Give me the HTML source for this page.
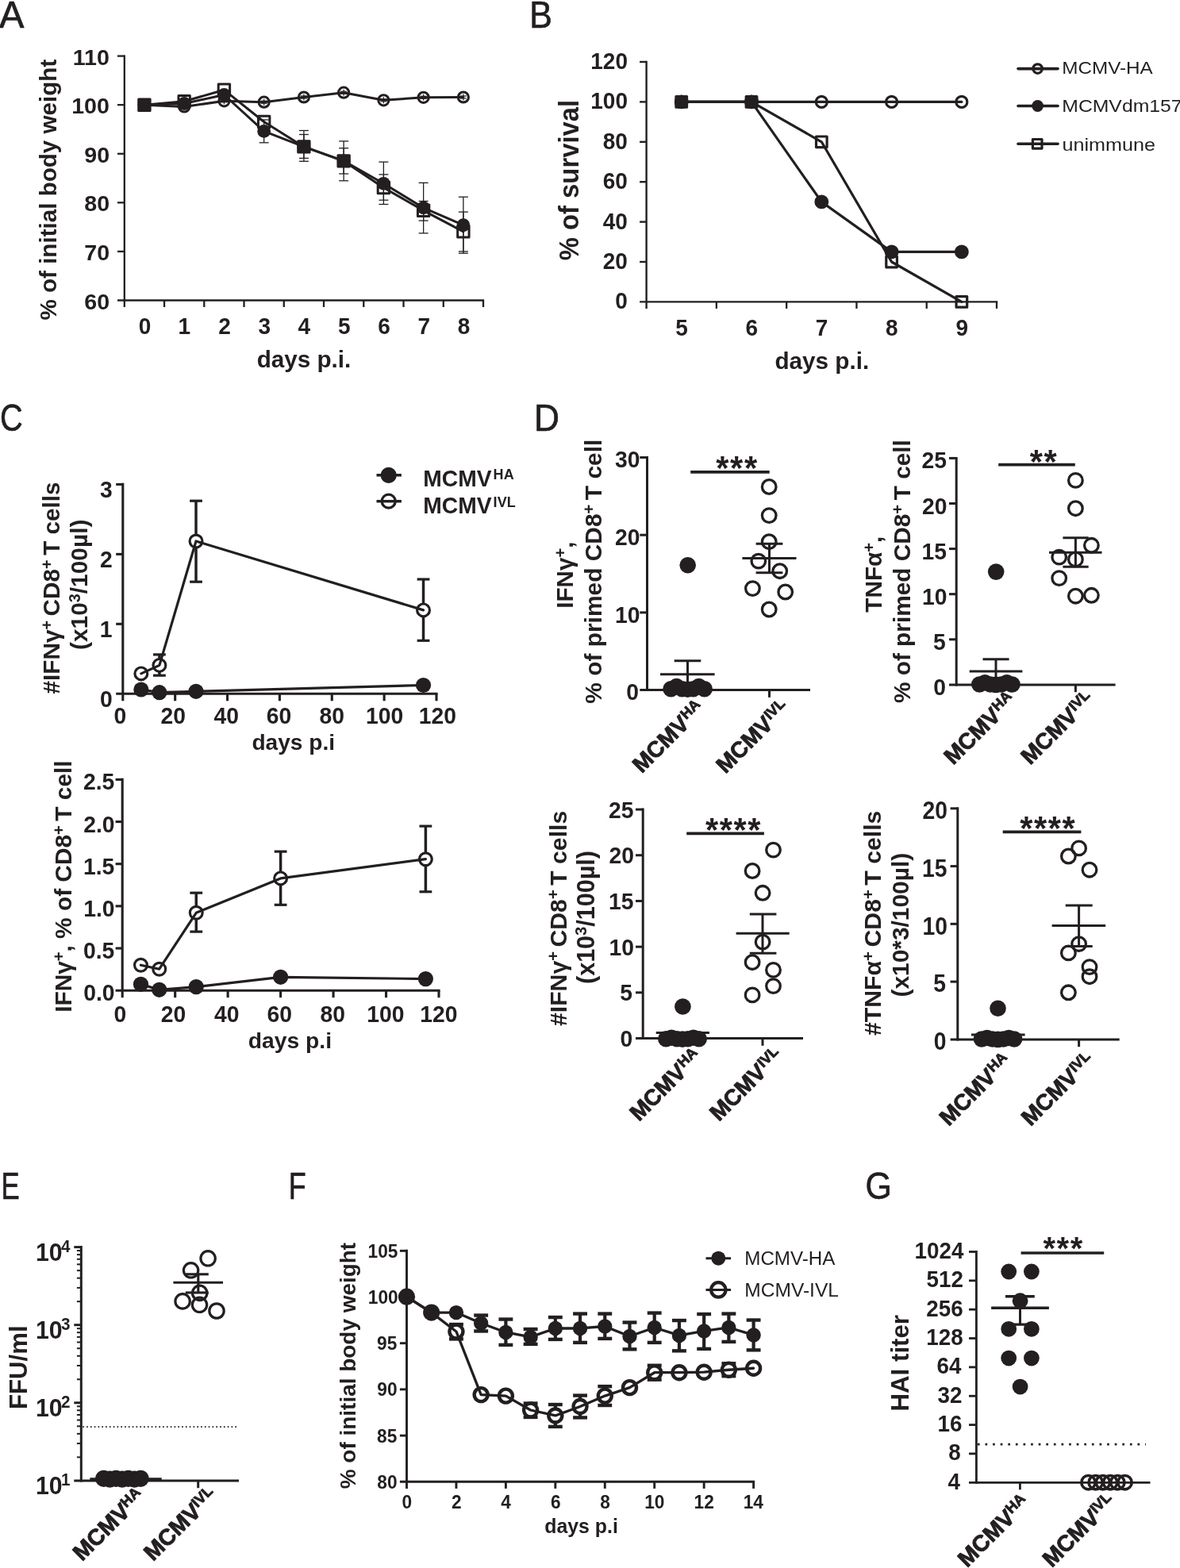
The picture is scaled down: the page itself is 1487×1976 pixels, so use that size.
<!DOCTYPE html>
<html><head><meta charset="utf-8"><title>Figure</title>
<style>html,body{margin:0;padding:0;background:#fff}svg{display:block}text{font-family:"Liberation Sans",sans-serif;fill:#231f20;stroke:none}</style>
</head><body>
<svg width="1487" height="1976" viewBox="0 0 1487 1976" stroke="#231f20" fill="#231f20">
<rect x="0" y="0" width="1487" height="1976" fill="#fff" stroke="none"/>
<text transform="translate(-0.96,35.35) scale(0.9636,1)" font-size="48.90" font-weight="normal" style="stroke:#231f20;stroke-width:0.7px;stroke-linejoin:round">A</text>
<text transform="translate(667.32,35.35) scale(0.8755,1)" font-size="48.90" font-weight="normal" style="stroke:#231f20;stroke-width:0.7px;stroke-linejoin:round">B</text>
<text transform="translate(0.07,543.15) scale(0.8127,1)" font-size="48.90" font-weight="normal" style="stroke:#231f20;stroke-width:0.7px;stroke-linejoin:round">C</text>
<text transform="translate(673.01,543.05) scale(0.9051,1)" font-size="48.90" font-weight="normal" style="stroke:#231f20;stroke-width:0.7px;stroke-linejoin:round">D</text>
<text transform="translate(1.43,1511.45) scale(0.7111,1)" font-size="48.90" font-weight="normal" style="stroke:#231f20;stroke-width:0.7px;stroke-linejoin:round">E</text>
<text transform="translate(363.64,1511.45) scale(0.7347,1)" font-size="48.90" font-weight="normal" style="stroke:#231f20;stroke-width:0.7px;stroke-linejoin:round">F</text>
<text transform="translate(1090.43,1511.45) scale(0.8769,1)" font-size="48.90" font-weight="normal" style="stroke:#231f20;stroke-width:0.7px;stroke-linejoin:round">G</text>
<line x1="156.80" y1="69.50" x2="156.80" y2="387.00" stroke-width="2.3" />
<line x1="148.00" y1="378.50" x2="610.10" y2="378.50" stroke-width="2.3" />
<text transform="translate(106.19,389.50) scale(1.0500,1)" font-size="27.30" font-weight="bold" >60</text>
<line x1="148.00" y1="316.92" x2="156.80" y2="316.92" stroke-width="2.3" />
<text transform="translate(106.19,327.92) scale(1.0500,1)" font-size="27.30" font-weight="bold" >70</text>
<line x1="148.00" y1="255.34" x2="156.80" y2="255.34" stroke-width="2.3" />
<text transform="translate(106.19,266.34) scale(1.0500,1)" font-size="27.30" font-weight="bold" >80</text>
<line x1="148.00" y1="193.76" x2="156.80" y2="193.76" stroke-width="2.3" />
<text transform="translate(106.19,204.76) scale(1.0500,1)" font-size="27.30" font-weight="bold" >90</text>
<line x1="148.00" y1="132.18" x2="156.80" y2="132.18" stroke-width="2.3" />
<text transform="translate(90.18,143.18) scale(1.0500,1)" font-size="27.30" font-weight="bold" >100</text>
<line x1="148.00" y1="70.60" x2="156.80" y2="70.60" stroke-width="2.3" />
<text transform="translate(91.75,81.60) scale(1.0500,1)" font-size="27.30" font-weight="bold" >110</text>
<line x1="207.04" y1="378.50" x2="207.04" y2="387.00" stroke-width="2.3" />
<line x1="257.29" y1="378.50" x2="257.29" y2="387.00" stroke-width="2.3" />
<line x1="307.53" y1="378.50" x2="307.53" y2="387.00" stroke-width="2.3" />
<line x1="357.78" y1="378.50" x2="357.78" y2="387.00" stroke-width="2.3" />
<line x1="408.02" y1="378.50" x2="408.02" y2="387.00" stroke-width="2.3" />
<line x1="458.27" y1="378.50" x2="458.27" y2="387.00" stroke-width="2.3" />
<line x1="508.51" y1="378.50" x2="508.51" y2="387.00" stroke-width="2.3" />
<line x1="558.76" y1="378.50" x2="558.76" y2="387.00" stroke-width="2.3" />
<line x1="609.00" y1="378.50" x2="609.00" y2="387.00" stroke-width="2.3" />
<text transform="translate(174.71,421.00) scale(0.9620,1)" font-size="29.12" font-weight="bold" >0</text>
<text transform="translate(224.47,421.00) scale(0.9620,1)" font-size="29.12" font-weight="bold" >1</text>
<text transform="translate(275.32,421.00) scale(0.9620,1)" font-size="29.12" font-weight="bold" >2</text>
<text transform="translate(325.56,421.00) scale(0.9620,1)" font-size="29.12" font-weight="bold" >3</text>
<text transform="translate(375.56,421.00) scale(0.9620,1)" font-size="29.12" font-weight="bold" >4</text>
<text transform="translate(425.93,421.00) scale(0.9620,1)" font-size="29.12" font-weight="bold" >5</text>
<text transform="translate(476.17,421.00) scale(0.9620,1)" font-size="29.12" font-weight="bold" >6</text>
<text transform="translate(526.42,421.00) scale(0.9620,1)" font-size="29.12" font-weight="bold" >7</text>
<text transform="translate(576.66,421.00) scale(0.9620,1)" font-size="29.12" font-weight="bold" >8</text>
<text transform="translate(323.65,463.10)" font-size="29.67" font-weight="bold" >days p.i.</text>
<text transform="translate(71.40,403.55) rotate(-90)" font-size="29.60" font-weight="bold" >% of initial body weight</text>
<polyline points="181.92,132.30 232.17,134.50 282.41,127.30 332.66,128.70 382.90,122.50 433.14,116.70 483.39,126.30 533.63,122.80 583.88,122.50" fill="none" stroke-width="3" stroke-linejoin="round" stroke-linecap="round" />
<polyline points="181.92,132.30 232.17,130.50 282.41,119.50 332.66,165.40 382.90,184.90 433.14,202.90 483.39,231.30 533.63,261.90 583.88,283.70" fill="none" stroke-width="3" stroke-linejoin="round" stroke-linecap="round" />
<polyline points="181.92,132.30 232.17,127.70 282.41,113.30 332.66,153.50 382.90,184.90 433.14,202.90 483.39,236.50 533.63,265.30 583.88,291.90" fill="none" stroke-width="3" stroke-linejoin="round" stroke-linecap="round" />
<line x1="332.66" y1="151.00" x2="332.66" y2="179.80" stroke-width="1.3" />
<line x1="326.66" y1="151.00" x2="338.66" y2="151.00" stroke-width="1.3" />
<line x1="326.66" y1="179.80" x2="338.66" y2="179.80" stroke-width="1.3" />
<line x1="382.90" y1="164.50" x2="382.90" y2="203.30" stroke-width="1.3" />
<line x1="376.90" y1="164.50" x2="388.90" y2="164.50" stroke-width="1.3" />
<line x1="376.90" y1="203.30" x2="388.90" y2="203.30" stroke-width="1.3" />
<line x1="433.14" y1="177.90" x2="433.14" y2="227.80" stroke-width="1.3" />
<line x1="427.14" y1="177.90" x2="439.14" y2="177.90" stroke-width="1.3" />
<line x1="427.14" y1="227.80" x2="439.14" y2="227.80" stroke-width="1.3" />
<line x1="483.39" y1="204.10" x2="483.39" y2="257.50" stroke-width="1.3" />
<line x1="477.39" y1="204.10" x2="489.39" y2="204.10" stroke-width="1.3" />
<line x1="477.39" y1="257.50" x2="489.39" y2="257.50" stroke-width="1.3" />
<line x1="533.63" y1="230.40" x2="533.63" y2="293.90" stroke-width="1.3" />
<line x1="527.63" y1="230.40" x2="539.63" y2="230.40" stroke-width="1.3" />
<line x1="527.63" y1="293.90" x2="539.63" y2="293.90" stroke-width="1.3" />
<line x1="583.88" y1="248.20" x2="583.88" y2="319.20" stroke-width="1.3" />
<line x1="577.88" y1="248.20" x2="589.88" y2="248.20" stroke-width="1.3" />
<line x1="577.88" y1="319.20" x2="589.88" y2="319.20" stroke-width="1.3" />
<line x1="382.90" y1="169.50" x2="382.90" y2="199.40" stroke-width="1.3" />
<line x1="376.90" y1="169.50" x2="388.90" y2="169.50" stroke-width="1.3" />
<line x1="376.90" y1="199.40" x2="388.90" y2="199.40" stroke-width="1.3" />
<line x1="433.14" y1="186.70" x2="433.14" y2="219.00" stroke-width="1.3" />
<line x1="427.14" y1="186.70" x2="439.14" y2="186.70" stroke-width="1.3" />
<line x1="427.14" y1="219.00" x2="439.14" y2="219.00" stroke-width="1.3" />
<line x1="483.39" y1="219.90" x2="483.39" y2="252.20" stroke-width="1.3" />
<line x1="477.39" y1="219.90" x2="489.39" y2="219.90" stroke-width="1.3" />
<line x1="477.39" y1="252.20" x2="489.39" y2="252.20" stroke-width="1.3" />
<line x1="533.63" y1="253.50" x2="533.63" y2="278.10" stroke-width="1.3" />
<line x1="527.63" y1="253.50" x2="539.63" y2="253.50" stroke-width="1.3" />
<line x1="527.63" y1="278.10" x2="539.63" y2="278.10" stroke-width="1.3" />
<line x1="583.88" y1="267.10" x2="583.88" y2="316.90" stroke-width="1.3" />
<line x1="577.88" y1="267.10" x2="589.88" y2="267.10" stroke-width="1.3" />
<line x1="577.88" y1="316.90" x2="589.88" y2="316.90" stroke-width="1.3" />
<circle cx="181.92" cy="132.30" r="6.6" fill="none" stroke-width="3"/>
<line x1="181.92" y1="128.30" x2="181.92" y2="136.30" stroke-width="1.2" />
<line x1="177.92" y1="130.80" x2="185.92" y2="130.80" stroke-width="1.2" />
<line x1="177.92" y1="133.80" x2="185.92" y2="133.80" stroke-width="1.2" />
<circle cx="232.17" cy="134.50" r="6.6" fill="none" stroke-width="3"/>
<line x1="232.17" y1="130.50" x2="232.17" y2="138.50" stroke-width="1.2" />
<line x1="228.17" y1="133.00" x2="236.17" y2="133.00" stroke-width="1.2" />
<line x1="228.17" y1="136.00" x2="236.17" y2="136.00" stroke-width="1.2" />
<circle cx="282.41" cy="127.30" r="6.6" fill="none" stroke-width="3"/>
<line x1="282.41" y1="123.30" x2="282.41" y2="131.30" stroke-width="1.2" />
<line x1="278.41" y1="125.80" x2="286.41" y2="125.80" stroke-width="1.2" />
<line x1="278.41" y1="128.80" x2="286.41" y2="128.80" stroke-width="1.2" />
<circle cx="332.66" cy="128.70" r="6.6" fill="none" stroke-width="3"/>
<line x1="332.66" y1="124.70" x2="332.66" y2="132.70" stroke-width="1.2" />
<line x1="328.66" y1="127.20" x2="336.66" y2="127.20" stroke-width="1.2" />
<line x1="328.66" y1="130.20" x2="336.66" y2="130.20" stroke-width="1.2" />
<circle cx="382.90" cy="122.50" r="6.6" fill="none" stroke-width="3"/>
<line x1="382.90" y1="118.50" x2="382.90" y2="126.50" stroke-width="1.2" />
<line x1="378.90" y1="121.00" x2="386.90" y2="121.00" stroke-width="1.2" />
<line x1="378.90" y1="124.00" x2="386.90" y2="124.00" stroke-width="1.2" />
<circle cx="433.14" cy="116.70" r="6.6" fill="none" stroke-width="3"/>
<line x1="433.14" y1="112.70" x2="433.14" y2="120.70" stroke-width="1.2" />
<line x1="429.14" y1="115.20" x2="437.14" y2="115.20" stroke-width="1.2" />
<line x1="429.14" y1="118.20" x2="437.14" y2="118.20" stroke-width="1.2" />
<circle cx="483.39" cy="126.30" r="6.6" fill="none" stroke-width="3"/>
<line x1="483.39" y1="122.30" x2="483.39" y2="130.30" stroke-width="1.2" />
<line x1="479.39" y1="124.80" x2="487.39" y2="124.80" stroke-width="1.2" />
<line x1="479.39" y1="127.80" x2="487.39" y2="127.80" stroke-width="1.2" />
<circle cx="533.63" cy="122.80" r="6.6" fill="none" stroke-width="3"/>
<line x1="533.63" y1="118.80" x2="533.63" y2="126.80" stroke-width="1.2" />
<line x1="529.63" y1="121.30" x2="537.63" y2="121.30" stroke-width="1.2" />
<line x1="529.63" y1="124.30" x2="537.63" y2="124.30" stroke-width="1.2" />
<circle cx="583.88" cy="122.50" r="6.6" fill="none" stroke-width="3"/>
<line x1="583.88" y1="118.50" x2="583.88" y2="126.50" stroke-width="1.2" />
<line x1="579.88" y1="121.00" x2="587.88" y2="121.00" stroke-width="1.2" />
<line x1="579.88" y1="124.00" x2="587.88" y2="124.00" stroke-width="1.2" />
<rect x="174.72" y="125.10" width="14.4" height="14.4" fill="none" stroke-width="3" stroke-linejoin="round"/>
<rect x="224.97" y="120.50" width="14.4" height="14.4" fill="none" stroke-width="3" stroke-linejoin="round"/>
<rect x="275.21" y="106.10" width="14.4" height="14.4" fill="none" stroke-width="3" stroke-linejoin="round"/>
<rect x="325.46" y="146.30" width="14.4" height="14.4" fill="none" stroke-width="3" stroke-linejoin="round"/>
<rect x="375.70" y="177.70" width="14.4" height="14.4" fill="none" stroke-width="3" stroke-linejoin="round"/>
<rect x="425.94" y="195.70" width="14.4" height="14.4" fill="none" stroke-width="3" stroke-linejoin="round"/>
<rect x="476.19" y="229.30" width="14.4" height="14.4" fill="none" stroke-width="3" stroke-linejoin="round"/>
<rect x="526.43" y="258.10" width="14.4" height="14.4" fill="none" stroke-width="3" stroke-linejoin="round"/>
<rect x="576.68" y="284.70" width="14.4" height="14.4" fill="none" stroke-width="3" stroke-linejoin="round"/>
<circle cx="181.92" cy="132.30" r="8.4" stroke="none"/>
<circle cx="232.17" cy="130.50" r="8.4" stroke="none"/>
<circle cx="282.41" cy="119.50" r="8.4" stroke="none"/>
<circle cx="332.66" cy="165.40" r="8.4" stroke="none"/>
<circle cx="382.90" cy="184.90" r="8.4" stroke="none"/>
<circle cx="433.14" cy="202.90" r="8.4" stroke="none"/>
<circle cx="483.39" cy="231.30" r="8.4" stroke="none"/>
<circle cx="533.63" cy="261.90" r="8.4" stroke="none"/>
<circle cx="583.88" cy="283.70" r="8.4" stroke="none"/>
<line x1="814.60" y1="76.80" x2="814.60" y2="388.90" stroke-width="2.4" />
<line x1="806.10" y1="380.40" x2="1257.20" y2="380.40" stroke-width="2.4" />
<text transform="translate(775.27,389.30) scale(0.9620,1)" font-size="29.12" font-weight="bold" >0</text>
<line x1="806.10" y1="330.00" x2="814.60" y2="330.00" stroke-width="2.4" />
<text transform="translate(759.64,338.90) scale(0.9620,1)" font-size="29.12" font-weight="bold" >20</text>
<line x1="806.10" y1="279.60" x2="814.60" y2="279.60" stroke-width="2.4" />
<text transform="translate(759.64,288.50) scale(0.9620,1)" font-size="29.12" font-weight="bold" >40</text>
<line x1="806.10" y1="229.20" x2="814.60" y2="229.20" stroke-width="2.4" />
<text transform="translate(759.64,238.10) scale(0.9620,1)" font-size="29.12" font-weight="bold" >60</text>
<line x1="806.10" y1="178.80" x2="814.60" y2="178.80" stroke-width="2.4" />
<text transform="translate(759.64,187.70) scale(0.9620,1)" font-size="29.12" font-weight="bold" >80</text>
<line x1="806.10" y1="128.40" x2="814.60" y2="128.40" stroke-width="2.4" />
<text transform="translate(744.25,137.30) scale(0.9620,1)" font-size="29.12" font-weight="bold" >100</text>
<line x1="806.10" y1="78.00" x2="814.60" y2="78.00" stroke-width="2.4" />
<text transform="translate(744.25,86.90) scale(0.9620,1)" font-size="29.12" font-weight="bold" >120</text>
<line x1="902.88" y1="380.40" x2="902.88" y2="388.90" stroke-width="2.3" />
<line x1="991.16" y1="380.40" x2="991.16" y2="388.90" stroke-width="2.3" />
<line x1="1079.44" y1="380.40" x2="1079.44" y2="388.90" stroke-width="2.3" />
<line x1="1167.72" y1="380.40" x2="1167.72" y2="388.90" stroke-width="2.3" />
<line x1="1256.00" y1="380.40" x2="1256.00" y2="388.90" stroke-width="2.3" />
<text transform="translate(851.22,423.00) scale(0.9620,1)" font-size="29.12" font-weight="bold" >5</text>
<text transform="translate(939.50,423.00) scale(0.9620,1)" font-size="29.12" font-weight="bold" >6</text>
<text transform="translate(1027.78,423.00) scale(0.9620,1)" font-size="29.12" font-weight="bold" >7</text>
<text transform="translate(1116.06,423.00) scale(0.9620,1)" font-size="29.12" font-weight="bold" >8</text>
<text transform="translate(1204.46,423.00) scale(0.9620,1)" font-size="29.12" font-weight="bold" >9</text>
<text transform="translate(976.45,464.80)" font-size="29.69" font-weight="bold" >days p.i.</text>
<text transform="translate(728.50,328.22) rotate(-90) scale(0.9568,1)" font-size="34.30" font-weight="bold" >% of survival</text>
<polyline points="858.74,128.40 947.02,128.40 1035.30,128.40 1123.58,128.40 1211.86,128.40" fill="none" stroke-width="3.2" stroke-linejoin="round" stroke-linecap="round" />
<polyline points="858.74,128.40 947.02,128.40 1035.30,254.40 1123.58,317.40 1211.86,317.40" fill="none" stroke-width="3.2" stroke-linejoin="round" stroke-linecap="round" />
<polyline points="858.74,128.40 947.02,128.40 1035.30,178.80 1123.58,330.00 1211.86,380.40" fill="none" stroke-width="3.2" stroke-linejoin="round" stroke-linecap="round" />
<circle cx="858.74" cy="128.40" r="7.0" fill="none" stroke-width="3.2"/>
<circle cx="947.02" cy="128.40" r="7.0" fill="none" stroke-width="3.2"/>
<circle cx="1035.30" cy="128.40" r="7.0" fill="none" stroke-width="3.2"/>
<circle cx="1123.58" cy="128.40" r="7.0" fill="none" stroke-width="3.2"/>
<circle cx="1211.86" cy="128.40" r="7.0" fill="none" stroke-width="3.2"/>
<rect x="851.94" y="121.60" width="13.6" height="13.6" fill="none" stroke-width="3.2" stroke-linejoin="round"/>
<rect x="940.22" y="121.60" width="13.6" height="13.6" fill="none" stroke-width="3.2" stroke-linejoin="round"/>
<rect x="1028.50" y="172.00" width="13.6" height="13.6" fill="none" stroke-width="3.2" stroke-linejoin="round"/>
<rect x="1116.78" y="323.20" width="13.6" height="13.6" fill="none" stroke-width="3.2" stroke-linejoin="round"/>
<rect x="1205.06" y="373.60" width="13.6" height="13.6" fill="none" stroke-width="3.2" stroke-linejoin="round"/>
<circle cx="858.74" cy="128.40" r="8.9" stroke="none"/>
<circle cx="947.02" cy="128.40" r="8.9" stroke="none"/>
<circle cx="1035.30" cy="254.40" r="8.9" stroke="none"/>
<circle cx="1123.58" cy="317.40" r="8.9" stroke="none"/>
<circle cx="1211.86" cy="317.40" r="8.9" stroke="none"/>
<line x1="1283.00" y1="86.60" x2="1333.00" y2="86.60" stroke-width="3.6" stroke-linecap="round"/>
<circle cx="1307.60" cy="86.60" r="5.8" fill="none" stroke-width="3.2"/>
<text transform="translate(1338.30,93.30) scale(1.0870,1)" font-size="22.30" font-weight="normal" >MCMV-HA</text>
<line x1="1283.00" y1="133.50" x2="1333.00" y2="133.50" stroke-width="3.6" stroke-linecap="round"/>
<circle cx="1307.60" cy="133.50" r="7.4" stroke="none"/>
<text transform="translate(1338.26,141.10) scale(1.1109,1)" font-size="22.30" font-weight="normal" >MCMVdm157</text>
<line x1="1283.00" y1="181.30" x2="1333.00" y2="181.30" stroke-width="3.6" stroke-linecap="round"/>
<rect x="1301.40" y="175.50" width="11.6" height="11.6" fill="none" stroke-width="3.2" stroke-linejoin="round"/>
<text transform="translate(1338.50,189.50) scale(1.1300,1)" font-size="22.30" font-weight="normal" >unimmune</text>
<line x1="154.80" y1="608.85" x2="154.80" y2="883.30" stroke-width="3.1" />
<line x1="146.20" y1="874.30" x2="551.55" y2="874.30" stroke-width="3.1" />
<text transform="translate(126.03,891.10) scale(0.9620,1)" font-size="29.43" font-weight="bold" >0</text>
<line x1="146.20" y1="786.33" x2="154.80" y2="786.33" stroke-width="3.1" />
<text transform="translate(125.79,803.13) scale(0.9620,1)" font-size="29.43" font-weight="bold" >1</text>
<line x1="146.20" y1="698.37" x2="154.80" y2="698.37" stroke-width="3.1" />
<text transform="translate(126.03,715.17) scale(0.9620,1)" font-size="29.43" font-weight="bold" >2</text>
<line x1="146.20" y1="610.40" x2="154.80" y2="610.40" stroke-width="3.1" />
<text transform="translate(126.03,627.20) scale(0.9620,1)" font-size="29.43" font-weight="bold" >3</text>
<text transform="translate(143.46,912.30) scale(0.9620,1)" font-size="29.43" font-weight="bold" >0</text>
<line x1="220.67" y1="874.30" x2="220.67" y2="883.30" stroke-width="3.1" />
<text transform="translate(202.47,912.30) scale(0.9620,1)" font-size="29.43" font-weight="bold" >20</text>
<line x1="286.53" y1="874.30" x2="286.53" y2="883.30" stroke-width="3.1" />
<text transform="translate(269.41,912.30) scale(0.9620,1)" font-size="29.43" font-weight="bold" >40</text>
<line x1="352.40" y1="874.30" x2="352.40" y2="883.30" stroke-width="3.1" />
<text transform="translate(335.87,912.30) scale(0.9620,1)" font-size="29.43" font-weight="bold" >60</text>
<line x1="418.27" y1="874.30" x2="418.27" y2="883.30" stroke-width="3.1" />
<text transform="translate(402.57,912.30) scale(0.9620,1)" font-size="29.43" font-weight="bold" >80</text>
<line x1="484.13" y1="874.30" x2="484.13" y2="883.30" stroke-width="3.1" />
<text transform="translate(460.97,912.30) scale(0.9620,1)" font-size="29.43" font-weight="bold" >100</text>
<line x1="550.00" y1="874.30" x2="550.00" y2="883.30" stroke-width="3.1" />
<text transform="translate(527.67,912.30) scale(0.9620,1)" font-size="29.43" font-weight="bold" >120</text>
<text transform="translate(317.45,945.10)" font-size="28.08" font-weight="bold" >days p.i</text>
<text transform="translate(74.80,874.40) rotate(-90) scale(1.0015,1)" font-size="29.66" font-weight="bold" >#IFNγ<tspan font-size="19.86" dy="-9.20">+ </tspan><tspan dy="9.20">CD8</tspan><tspan font-size="19.86" dy="-9.20">+ </tspan><tspan dy="9.20">T cells</tspan></text>
<text transform="translate(110.30,819.00) rotate(-90) scale(1.0019,1)" font-size="29.81" font-weight="bold" >(x10<tspan font-size="19.86" dy="-9.20">3</tspan><tspan dy="9.20">/100µl)</tspan></text>
<line x1="200.91" y1="824.90" x2="200.91" y2="851.20" stroke-width="3.5" />
<line x1="193.01" y1="824.90" x2="208.81" y2="824.90" stroke-width="3.2" />
<line x1="193.01" y1="851.20" x2="208.81" y2="851.20" stroke-width="3.2" />
<line x1="247.01" y1="631.20" x2="247.01" y2="733.20" stroke-width="3.5" />
<line x1="239.11" y1="631.20" x2="254.91" y2="631.20" stroke-width="3.2" />
<line x1="239.11" y1="733.20" x2="254.91" y2="733.20" stroke-width="3.2" />
<line x1="533.53" y1="730.00" x2="533.53" y2="807.30" stroke-width="3.5" />
<line x1="525.63" y1="730.00" x2="541.43" y2="730.00" stroke-width="3.2" />
<line x1="525.63" y1="807.30" x2="541.43" y2="807.30" stroke-width="3.2" />
<circle cx="177.85" cy="848.90" r="7.9" fill="#fff" stroke-width="3.2"/>
<circle cx="200.91" cy="838.40" r="7.9" fill="#fff" stroke-width="3.2"/>
<circle cx="247.01" cy="682.00" r="7.9" fill="#fff" stroke-width="3.2"/>
<circle cx="533.53" cy="768.90" r="7.9" fill="#fff" stroke-width="3.2"/>
<polyline points="177.85,848.90 200.91,838.40 247.01,682.00 533.53,768.90" fill="none" stroke-width="3.2" stroke-linejoin="round" stroke-linecap="round" />
<polyline points="177.85,869.00 200.91,872.70 247.01,871.30 533.53,863.50" fill="none" stroke-width="3.2" stroke-linejoin="round" stroke-linecap="round" />
<circle cx="177.85" cy="869.00" r="9.6" stroke="none"/>
<circle cx="200.91" cy="872.70" r="9.6" stroke="none"/>
<circle cx="247.01" cy="871.30" r="9.6" stroke="none"/>
<circle cx="533.53" cy="863.50" r="9.6" stroke="none"/>
<line x1="474.50" y1="598.80" x2="505.90" y2="598.80" stroke-width="3.5" />
<circle cx="489.70" cy="598.80" r="10.1" stroke="none"/>
<circle cx="489.70" cy="631.70" r="8.5" fill="none" stroke-width="3.2"/>
<line x1="474.50" y1="631.70" x2="505.90" y2="631.70" stroke-width="3.5" />
<text transform="translate(533.33,612.80) scale(0.9850,1)" font-size="28.70" font-weight="bold" >MCMV<tspan font-size="18.3" dx="2.0" dy="-8.6">HA</tspan></text>
<text transform="translate(533.33,647.10) scale(0.9850,1)" font-size="28.70" font-weight="bold" >MCMV<tspan font-size="18.3" dx="2.0" dy="-8.6">IVL</tspan></text>
<line x1="154.20" y1="980.85" x2="154.20" y2="1257.20" stroke-width="3.1" />
<line x1="145.60" y1="1248.20" x2="554.55" y2="1248.20" stroke-width="3.1" />
<text transform="translate(105.16,1261.20) scale(0.9620,1)" font-size="29.43" font-weight="bold" >0.0</text>
<line x1="145.60" y1="1195.04" x2="154.20" y2="1195.04" stroke-width="3.1" />
<text transform="translate(104.92,1208.04) scale(0.9620,1)" font-size="29.43" font-weight="bold" >0.5</text>
<line x1="145.60" y1="1141.88" x2="154.20" y2="1141.88" stroke-width="3.1" />
<text transform="translate(105.16,1154.88) scale(0.9620,1)" font-size="29.43" font-weight="bold" >1.0</text>
<line x1="145.60" y1="1088.72" x2="154.20" y2="1088.72" stroke-width="3.1" />
<text transform="translate(104.92,1101.72) scale(0.9620,1)" font-size="29.43" font-weight="bold" >1.5</text>
<line x1="145.60" y1="1035.56" x2="154.20" y2="1035.56" stroke-width="3.1" />
<text transform="translate(105.16,1048.56) scale(0.9620,1)" font-size="29.43" font-weight="bold" >2.0</text>
<line x1="145.60" y1="982.40" x2="154.20" y2="982.40" stroke-width="3.1" />
<text transform="translate(104.92,995.40) scale(0.9620,1)" font-size="29.43" font-weight="bold" >2.5</text>
<text transform="translate(143.46,1287.80) scale(0.9620,1)" font-size="29.43" font-weight="bold" >0</text>
<line x1="220.67" y1="1248.20" x2="220.67" y2="1257.20" stroke-width="3.1" />
<text transform="translate(202.72,1287.80) scale(0.9620,1)" font-size="29.43" font-weight="bold" >20</text>
<line x1="287.13" y1="1248.20" x2="287.13" y2="1257.20" stroke-width="3.1" />
<text transform="translate(269.91,1287.80) scale(0.9620,1)" font-size="29.43" font-weight="bold" >40</text>
<line x1="353.60" y1="1248.20" x2="353.60" y2="1257.20" stroke-width="3.1" />
<text transform="translate(336.62,1287.80) scale(0.9620,1)" font-size="29.43" font-weight="bold" >60</text>
<line x1="420.07" y1="1248.20" x2="420.07" y2="1257.20" stroke-width="3.1" />
<text transform="translate(403.57,1287.80) scale(0.9620,1)" font-size="29.43" font-weight="bold" >80</text>
<line x1="486.53" y1="1248.20" x2="486.53" y2="1257.20" stroke-width="3.1" />
<text transform="translate(462.22,1287.80) scale(0.9620,1)" font-size="29.43" font-weight="bold" >100</text>
<line x1="553.00" y1="1248.20" x2="553.00" y2="1257.20" stroke-width="3.1" />
<text transform="translate(529.17,1287.80) scale(0.9620,1)" font-size="29.43" font-weight="bold" >120</text>
<text transform="translate(312.75,1320.80)" font-size="28.28" font-weight="bold" >days p.i</text>
<text transform="translate(90.30,1275.80) rotate(-90) scale(1.0014,1)" font-size="29.78" font-weight="bold" >IFNγ<tspan font-size="20.06" dy="-9.29">+</tspan><tspan dy="9.29">, % of CD8</tspan><tspan font-size="20.06" dy="-9.29">+ </tspan><tspan dy="9.29">T cell</tspan></text>
<line x1="247.25" y1="1125.20" x2="247.25" y2="1174.10" stroke-width="3.5" />
<line x1="239.35" y1="1125.20" x2="255.15" y2="1125.20" stroke-width="3.2" />
<line x1="239.35" y1="1174.10" x2="255.15" y2="1174.10" stroke-width="3.2" />
<line x1="353.60" y1="1073.10" x2="353.60" y2="1140.30" stroke-width="3.5" />
<line x1="345.70" y1="1073.10" x2="361.50" y2="1073.10" stroke-width="3.2" />
<line x1="345.70" y1="1140.30" x2="361.50" y2="1140.30" stroke-width="3.2" />
<line x1="536.38" y1="1041.10" x2="536.38" y2="1123.80" stroke-width="3.5" />
<line x1="528.48" y1="1041.10" x2="544.28" y2="1041.10" stroke-width="3.2" />
<line x1="528.48" y1="1123.80" x2="544.28" y2="1123.80" stroke-width="3.2" />
<circle cx="177.46" cy="1216.20" r="7.9" fill="#fff" stroke-width="3.2"/>
<circle cx="200.73" cy="1221.20" r="7.9" fill="#fff" stroke-width="3.2"/>
<circle cx="247.25" cy="1150.30" r="7.9" fill="#fff" stroke-width="3.2"/>
<circle cx="353.60" cy="1106.90" r="7.9" fill="#fff" stroke-width="3.2"/>
<circle cx="536.38" cy="1082.70" r="7.9" fill="#fff" stroke-width="3.2"/>
<polyline points="177.46,1216.20 200.73,1221.20 247.25,1150.30 353.60,1106.90 536.38,1082.70" fill="none" stroke-width="3.2" stroke-linejoin="round" stroke-linecap="round" />
<polyline points="177.46,1240.40 200.73,1247.30 247.25,1243.60 353.60,1231.30 536.38,1233.60" fill="none" stroke-width="3.2" stroke-linejoin="round" stroke-linecap="round" />
<circle cx="177.46" cy="1240.40" r="9.6" stroke="none"/>
<circle cx="200.73" cy="1247.30" r="9.6" stroke="none"/>
<circle cx="247.25" cy="1243.60" r="9.6" stroke="none"/>
<circle cx="353.60" cy="1231.30" r="9.6" stroke="none"/>
<circle cx="536.38" cy="1233.60" r="9.6" stroke="none"/>
<line x1="815.50" y1="575.00" x2="815.50" y2="871.10" stroke-width="3.0" />
<line x1="806.30" y1="869.60" x2="1021.00" y2="869.60" stroke-width="3.0" />
<text transform="translate(789.13,882.40) scale(0.9620,1)" font-size="29.43" font-weight="bold" >0</text>
<line x1="806.30" y1="771.90" x2="815.50" y2="771.90" stroke-width="3.0" />
<text transform="translate(775.00,784.70) scale(0.9620,1)" font-size="29.43" font-weight="bold" >10</text>
<line x1="806.30" y1="674.20" x2="815.50" y2="674.20" stroke-width="3.0" />
<text transform="translate(775.00,687.00) scale(0.9620,1)" font-size="29.43" font-weight="bold" >20</text>
<line x1="806.30" y1="576.50" x2="815.50" y2="576.50" stroke-width="3.0" />
<text transform="translate(775.00,589.30) scale(0.9620,1)" font-size="29.43" font-weight="bold" >30</text>
<line x1="969.50" y1="869.60" x2="969.50" y2="878.90" stroke-width="3.0" />
<text transform="translate(808.83,975.27) rotate(-45)" font-size="28.40" font-weight="bold" style="stroke:#231f20;stroke-width:0.9px;stroke-linejoin:round">MCMV<tspan font-size="18.32" dx="0.85" dy="-8.52">HA</tspan></text>
<text transform="translate(914.33,975.77) rotate(-45)" font-size="28.40" font-weight="bold" style="stroke:#231f20;stroke-width:0.9px;stroke-linejoin:round">MCMV<tspan font-size="18.32" dx="0.85" dy="-8.52">IVL</tspan></text>
<text transform="translate(722.30,766.70) rotate(-90)" font-size="29.60" font-weight="bold" >IFNγ<tspan font-size="20.13" dy="-9.32">+</tspan><tspan dy="9.32">,</tspan></text>
<text transform="translate(758.00,886.75) rotate(-90)" font-size="29.91" font-weight="bold" >% of primed CD8<tspan font-size="20.13" dy="-9.32">+ </tspan><tspan dy="9.32">T cell</tspan></text>
<line x1="870.20" y1="594.90" x2="969.70" y2="594.90" stroke-width="3.7" />
<text transform="translate(902.32,604.45)" font-size="41.59" font-weight="bold" letter-spacing="1.6">***</text>
<line x1="866.50" y1="832.70" x2="866.50" y2="869.00" stroke-width="3.0" />
<line x1="849.70" y1="832.70" x2="883.30" y2="832.70" stroke-width="3.0" />
<line x1="832.00" y1="849.70" x2="900.60" y2="849.70" stroke-width="3.0" />
<circle cx="845.50" cy="868.30" r="10.3" stroke="none"/>
<circle cx="852.53" cy="865.00" r="10.3" stroke="none"/>
<circle cx="859.57" cy="868.30" r="10.3" stroke="none"/>
<circle cx="866.60" cy="868.70" r="10.3" stroke="none"/>
<circle cx="873.63" cy="868.30" r="10.3" stroke="none"/>
<circle cx="880.67" cy="865.00" r="10.3" stroke="none"/>
<circle cx="887.70" cy="868.30" r="10.3" stroke="none"/>
<circle cx="866.70" cy="712.20" r="10.3" stroke="none"/>
<line x1="969.50" y1="685.30" x2="969.50" y2="721.70" stroke-width="3.0" />
<line x1="952.60" y1="685.30" x2="986.40" y2="685.30" stroke-width="3.0" />
<line x1="952.60" y1="721.70" x2="986.40" y2="721.70" stroke-width="3.0" />
<line x1="935.40" y1="703.40" x2="1003.50" y2="703.40" stroke-width="3.0" />
<circle cx="969.20" cy="613.50" r="8.8" fill="none" stroke-width="3.3"/>
<circle cx="969.20" cy="649.60" r="8.8" fill="none" stroke-width="3.3"/>
<circle cx="969.20" cy="682.70" r="8.8" fill="none" stroke-width="3.3"/>
<circle cx="955.80" cy="707.10" r="8.8" fill="none" stroke-width="3.3"/>
<circle cx="982.70" cy="719.70" r="8.8" fill="none" stroke-width="3.3"/>
<circle cx="948.40" cy="741.60" r="8.8" fill="none" stroke-width="3.3"/>
<circle cx="989.70" cy="746.00" r="8.8" fill="none" stroke-width="3.3"/>
<circle cx="969.20" cy="768.00" r="8.8" fill="none" stroke-width="3.3"/>
<line x1="1205.20" y1="575.90" x2="1205.20" y2="864.40" stroke-width="3.0" />
<line x1="1196.00" y1="862.90" x2="1405.60" y2="862.90" stroke-width="3.0" />
<text transform="translate(1176.13,875.90) scale(0.9620,1)" font-size="29.43" font-weight="bold" >0</text>
<line x1="1196.00" y1="805.80" x2="1205.20" y2="805.80" stroke-width="3.0" />
<text transform="translate(1175.89,818.80) scale(0.9620,1)" font-size="29.43" font-weight="bold" >5</text>
<line x1="1196.00" y1="748.70" x2="1205.20" y2="748.70" stroke-width="3.0" />
<text transform="translate(1162.00,761.70) scale(0.9620,1)" font-size="29.43" font-weight="bold" >10</text>
<line x1="1196.00" y1="691.60" x2="1205.20" y2="691.60" stroke-width="3.0" />
<text transform="translate(1161.52,704.60) scale(0.9620,1)" font-size="29.43" font-weight="bold" >15</text>
<line x1="1196.00" y1="634.50" x2="1205.20" y2="634.50" stroke-width="3.0" />
<text transform="translate(1162.00,647.50) scale(0.9620,1)" font-size="29.43" font-weight="bold" >20</text>
<line x1="1196.00" y1="577.40" x2="1205.20" y2="577.40" stroke-width="3.0" />
<text transform="translate(1161.52,590.40) scale(0.9620,1)" font-size="29.43" font-weight="bold" >25</text>
<line x1="1355.40" y1="862.90" x2="1355.40" y2="872.20" stroke-width="3.0" />
<text transform="translate(1201.33,964.87) rotate(-45)" font-size="28.40" font-weight="bold" style="stroke:#231f20;stroke-width:0.9px;stroke-linejoin:round">MCMV<tspan font-size="18.32" dx="0.85" dy="-8.52">HA</tspan></text>
<text transform="translate(1298.33,964.87) rotate(-45)" font-size="28.40" font-weight="bold" style="stroke:#231f20;stroke-width:0.9px;stroke-linejoin:round">MCMV<tspan font-size="18.32" dx="0.85" dy="-8.52">IVL</tspan></text>
<text transform="translate(1111.00,771.65) rotate(-90)" font-size="29.69" font-weight="bold" >TNFα<tspan font-size="20.13" dy="-9.32">+</tspan><tspan dy="9.32">,</tspan></text>
<text transform="translate(1147.40,886.05) rotate(-90)" font-size="29.81" font-weight="bold" >% of primed CD8<tspan font-size="20.13" dy="-9.32">+ </tspan><tspan dy="9.32">T cell</tspan></text>
<line x1="1258.20" y1="585.60" x2="1354.80" y2="585.60" stroke-width="3.7" />
<text transform="translate(1297.80,595.55)" font-size="41.59" font-weight="bold" letter-spacing="1.6">**</text>
<line x1="1255.00" y1="830.70" x2="1255.00" y2="863.00" stroke-width="3.0" />
<line x1="1238.50" y1="830.70" x2="1271.60" y2="830.70" stroke-width="3.0" />
<line x1="1221.70" y1="846.10" x2="1288.40" y2="846.10" stroke-width="3.0" />
<circle cx="1234.30" cy="862.50" r="10.3" stroke="none"/>
<circle cx="1241.17" cy="860.30" r="10.3" stroke="none"/>
<circle cx="1248.03" cy="862.50" r="10.3" stroke="none"/>
<circle cx="1254.90" cy="862.90" r="10.3" stroke="none"/>
<circle cx="1261.77" cy="862.50" r="10.3" stroke="none"/>
<circle cx="1268.63" cy="860.30" r="10.3" stroke="none"/>
<circle cx="1275.50" cy="862.50" r="10.3" stroke="none"/>
<circle cx="1255.20" cy="720.60" r="10.3" stroke="none"/>
<line x1="1355.40" y1="677.70" x2="1355.40" y2="714.30" stroke-width="3.0" />
<line x1="1339.40" y1="677.70" x2="1371.70" y2="677.70" stroke-width="3.0" />
<line x1="1339.40" y1="714.30" x2="1371.70" y2="714.30" stroke-width="3.0" />
<line x1="1322.00" y1="696.20" x2="1388.50" y2="696.20" stroke-width="3.0" />
<circle cx="1355.40" cy="605.40" r="8.8" fill="none" stroke-width="3.3"/>
<circle cx="1355.40" cy="640.70" r="8.8" fill="none" stroke-width="3.3"/>
<circle cx="1375.40" cy="687.30" r="8.8" fill="none" stroke-width="3.3"/>
<circle cx="1334.70" cy="702.10" r="8.8" fill="none" stroke-width="3.3"/>
<circle cx="1355.40" cy="704.90" r="8.8" fill="none" stroke-width="3.3"/>
<circle cx="1334.70" cy="728.60" r="8.8" fill="none" stroke-width="3.3"/>
<circle cx="1355.40" cy="751.20" r="8.8" fill="none" stroke-width="3.3"/>
<circle cx="1375.40" cy="750.30" r="8.8" fill="none" stroke-width="3.3"/>
<line x1="810.20" y1="1018.60" x2="810.20" y2="1310.00" stroke-width="3.0" />
<line x1="801.00" y1="1308.50" x2="1012.00" y2="1308.50" stroke-width="3.0" />
<text transform="translate(781.53,1318.90) scale(0.9620,1)" font-size="29.43" font-weight="bold" >0</text>
<line x1="801.00" y1="1250.82" x2="810.20" y2="1250.82" stroke-width="3.0" />
<text transform="translate(781.29,1261.22) scale(0.9620,1)" font-size="29.43" font-weight="bold" >5</text>
<line x1="801.00" y1="1193.14" x2="810.20" y2="1193.14" stroke-width="3.0" />
<text transform="translate(767.40,1203.54) scale(0.9620,1)" font-size="29.43" font-weight="bold" >10</text>
<line x1="801.00" y1="1135.46" x2="810.20" y2="1135.46" stroke-width="3.0" />
<text transform="translate(766.92,1145.86) scale(0.9620,1)" font-size="29.43" font-weight="bold" >15</text>
<line x1="801.00" y1="1077.78" x2="810.20" y2="1077.78" stroke-width="3.0" />
<text transform="translate(767.40,1088.18) scale(0.9620,1)" font-size="29.43" font-weight="bold" >20</text>
<line x1="801.00" y1="1020.10" x2="810.20" y2="1020.10" stroke-width="3.0" />
<text transform="translate(766.92,1030.50) scale(0.9620,1)" font-size="29.43" font-weight="bold" >25</text>
<line x1="961.00" y1="1308.50" x2="961.00" y2="1317.80" stroke-width="3.0" />
<text transform="translate(805.13,1413.97) rotate(-45)" font-size="28.40" font-weight="bold" style="stroke:#231f20;stroke-width:0.9px;stroke-linejoin:round">MCMV<tspan font-size="18.32" dx="0.85" dy="-8.52">HA</tspan></text>
<text transform="translate(905.93,1413.97) rotate(-45)" font-size="28.40" font-weight="bold" style="stroke:#231f20;stroke-width:0.9px;stroke-linejoin:round">MCMV<tspan font-size="18.32" dx="0.85" dy="-8.52">IVL</tspan></text>
<text transform="translate(713.50,1293.00) rotate(-90) scale(1.0019,1)" font-size="30.13" font-weight="bold" >#IFNγ<tspan font-size="20.13" dy="-9.32">+ </tspan><tspan dy="9.32">CD8</tspan><tspan font-size="20.13" dy="-9.32">+ </tspan><tspan dy="9.32">T cells</tspan></text>
<text transform="translate(748.50,1240.00) rotate(-90) scale(1.0015,1)" font-size="30.48" font-weight="bold" >(x10<tspan font-size="20.13" dy="-9.32">3</tspan><tspan dy="9.32">/100µl)</tspan></text>
<line x1="865.20" y1="1050.40" x2="962.90" y2="1050.40" stroke-width="3.7" />
<text transform="translate(888.95,1060.25)" font-size="41.59" font-weight="bold" letter-spacing="1.6">****</text>
<line x1="826.70" y1="1301.40" x2="894.00" y2="1301.40" stroke-width="3.0" />
<circle cx="839.30" cy="1309.20" r="10.3" stroke="none"/>
<circle cx="846.20" cy="1307.70" r="10.3" stroke="none"/>
<circle cx="853.10" cy="1309.20" r="10.3" stroke="none"/>
<circle cx="860.00" cy="1309.60" r="10.3" stroke="none"/>
<circle cx="866.90" cy="1309.20" r="10.3" stroke="none"/>
<circle cx="873.80" cy="1307.70" r="10.3" stroke="none"/>
<circle cx="880.70" cy="1309.20" r="10.3" stroke="none"/>
<circle cx="860.40" cy="1268.50" r="10.3" stroke="none"/>
<line x1="961.00" y1="1152.10" x2="961.00" y2="1201.20" stroke-width="3.0" />
<line x1="944.80" y1="1152.10" x2="978.40" y2="1152.10" stroke-width="3.0" />
<line x1="944.80" y1="1201.20" x2="978.40" y2="1201.20" stroke-width="3.0" />
<line x1="927.60" y1="1176.20" x2="994.70" y2="1176.20" stroke-width="3.0" />
<circle cx="974.50" cy="1071.10" r="8.8" fill="none" stroke-width="3.3"/>
<circle cx="948.10" cy="1097.50" r="8.8" fill="none" stroke-width="3.3"/>
<circle cx="961.10" cy="1125.30" r="8.8" fill="none" stroke-width="3.3"/>
<circle cx="961.10" cy="1187.10" r="8.8" fill="none" stroke-width="3.3"/>
<circle cx="948.10" cy="1212.70" r="8.8" fill="none" stroke-width="3.3"/>
<circle cx="974.50" cy="1222.40" r="8.8" fill="none" stroke-width="3.3"/>
<circle cx="974.50" cy="1242.60" r="8.8" fill="none" stroke-width="3.3"/>
<circle cx="948.10" cy="1253.90" r="8.8" fill="none" stroke-width="3.3"/>
<line x1="1206.80" y1="1017.30" x2="1206.80" y2="1311.40" stroke-width="3.0" />
<line x1="1197.60" y1="1309.90" x2="1410.70" y2="1309.90" stroke-width="3.0" />
<text transform="translate(1176.69,1323.10) scale(0.8991,1)" font-size="31.49" font-weight="bold" >0</text>
<line x1="1197.60" y1="1237.12" x2="1206.80" y2="1237.12" stroke-width="3.0" />
<text transform="translate(1176.24,1250.33) scale(0.8991,1)" font-size="31.49" font-weight="bold" >5</text>
<line x1="1197.60" y1="1164.35" x2="1206.80" y2="1164.35" stroke-width="3.0" />
<text transform="translate(1162.46,1177.55) scale(0.8991,1)" font-size="31.49" font-weight="bold" >10</text>
<line x1="1197.60" y1="1091.58" x2="1206.80" y2="1091.58" stroke-width="3.0" />
<text transform="translate(1162.01,1104.78) scale(0.8991,1)" font-size="31.49" font-weight="bold" >15</text>
<line x1="1197.60" y1="1018.80" x2="1206.80" y2="1018.80" stroke-width="3.0" />
<text transform="translate(1162.46,1032.00) scale(0.8991,1)" font-size="31.49" font-weight="bold" >20</text>
<line x1="1359.60" y1="1309.90" x2="1359.60" y2="1319.20" stroke-width="3.0" />
<text transform="translate(1195.43,1419.97) rotate(-45)" font-size="28.40" font-weight="bold" style="stroke:#231f20;stroke-width:0.9px;stroke-linejoin:round">MCMV<tspan font-size="18.32" dx="0.85" dy="-8.52">HA</tspan></text>
<text transform="translate(1298.83,1419.97) rotate(-45)" font-size="28.40" font-weight="bold" style="stroke:#231f20;stroke-width:0.9px;stroke-linejoin:round">MCMV<tspan font-size="18.32" dx="0.85" dy="-8.52">IVL</tspan></text>
<text transform="translate(1109.90,1305.00) rotate(-90) scale(1.0027,1)" font-size="30.14" font-weight="bold" >#TNFα<tspan font-size="20.13" dy="-9.32">+ </tspan><tspan dy="9.32">CD8</tspan><tspan font-size="20.13" dy="-9.32">+ </tspan><tspan dy="9.32">T cells</tspan></text>
<text transform="translate(1145.40,1256.50) rotate(-90)" font-size="29.88" font-weight="bold" >(x10*3/100µl)</text>
<line x1="1263.70" y1="1048.30" x2="1362.40" y2="1048.30" stroke-width="3.7" />
<text transform="translate(1285.25,1057.85)" font-size="41.59" font-weight="bold" letter-spacing="1.6">****</text>
<line x1="1224.00" y1="1304.00" x2="1291.60" y2="1304.00" stroke-width="3.0" />
<circle cx="1237.00" cy="1309.50" r="10.3" stroke="none"/>
<circle cx="1243.85" cy="1308.00" r="10.3" stroke="none"/>
<circle cx="1250.70" cy="1309.50" r="10.3" stroke="none"/>
<circle cx="1257.55" cy="1309.90" r="10.3" stroke="none"/>
<circle cx="1264.40" cy="1309.50" r="10.3" stroke="none"/>
<circle cx="1271.25" cy="1308.00" r="10.3" stroke="none"/>
<circle cx="1278.10" cy="1309.50" r="10.3" stroke="none"/>
<circle cx="1257.50" cy="1270.70" r="10.3" stroke="none"/>
<line x1="1359.60" y1="1140.90" x2="1359.60" y2="1192.50" stroke-width="3.0" />
<line x1="1342.70" y1="1140.90" x2="1376.70" y2="1140.90" stroke-width="3.0" />
<line x1="1342.70" y1="1192.50" x2="1376.70" y2="1192.50" stroke-width="3.0" />
<line x1="1325.60" y1="1166.40" x2="1393.20" y2="1166.40" stroke-width="3.0" />
<circle cx="1359.60" cy="1068.90" r="8.8" fill="none" stroke-width="3.3"/>
<circle cx="1346.40" cy="1079.00" r="8.8" fill="none" stroke-width="3.3"/>
<circle cx="1373.00" cy="1096.20" r="8.8" fill="none" stroke-width="3.3"/>
<circle cx="1359.60" cy="1189.60" r="8.8" fill="none" stroke-width="3.3"/>
<circle cx="1346.40" cy="1200.90" r="8.8" fill="none" stroke-width="3.3"/>
<circle cx="1373.00" cy="1218.60" r="8.8" fill="none" stroke-width="3.3"/>
<circle cx="1373.00" cy="1230.70" r="8.8" fill="none" stroke-width="3.3"/>
<circle cx="1346.40" cy="1250.80" r="8.8" fill="none" stroke-width="3.3"/>
<line x1="102.30" y1="1570.10" x2="102.30" y2="1867.40" stroke-width="3.0" />
<line x1="93.30" y1="1865.90" x2="301.00" y2="1865.90" stroke-width="3.0" />
<text transform="translate(44.88,1882.90) scale(0.9620,1)" font-size="31.51" font-weight="bold" >10<tspan font-size="21.5" dx="-1.6" dy="-10.5">1</tspan></text>
<line x1="96.90" y1="1836.37" x2="102.30" y2="1836.37" stroke-width="2" />
<line x1="96.90" y1="1819.09" x2="102.30" y2="1819.09" stroke-width="2" />
<line x1="96.90" y1="1806.84" x2="102.30" y2="1806.84" stroke-width="2" />
<line x1="96.90" y1="1797.33" x2="102.30" y2="1797.33" stroke-width="2" />
<line x1="96.90" y1="1789.56" x2="102.30" y2="1789.56" stroke-width="2" />
<line x1="96.90" y1="1783.00" x2="102.30" y2="1783.00" stroke-width="2" />
<line x1="96.90" y1="1777.31" x2="102.30" y2="1777.31" stroke-width="2" />
<line x1="96.90" y1="1772.29" x2="102.30" y2="1772.29" stroke-width="2" />
<line x1="93.30" y1="1767.80" x2="102.30" y2="1767.80" stroke-width="3.0" />
<text transform="translate(44.88,1784.80) scale(0.9620,1)" font-size="31.51" font-weight="bold" >10<tspan font-size="21.5" dx="-1.6" dy="-10.5">2</tspan></text>
<line x1="96.90" y1="1738.27" x2="102.30" y2="1738.27" stroke-width="2" />
<line x1="96.90" y1="1720.99" x2="102.30" y2="1720.99" stroke-width="2" />
<line x1="96.90" y1="1708.74" x2="102.30" y2="1708.74" stroke-width="2" />
<line x1="96.90" y1="1699.23" x2="102.30" y2="1699.23" stroke-width="2" />
<line x1="96.90" y1="1691.46" x2="102.30" y2="1691.46" stroke-width="2" />
<line x1="96.90" y1="1684.90" x2="102.30" y2="1684.90" stroke-width="2" />
<line x1="96.90" y1="1679.21" x2="102.30" y2="1679.21" stroke-width="2" />
<line x1="96.90" y1="1674.19" x2="102.30" y2="1674.19" stroke-width="2" />
<line x1="93.30" y1="1669.70" x2="102.30" y2="1669.70" stroke-width="3.0" />
<text transform="translate(44.88,1686.70) scale(0.9620,1)" font-size="31.51" font-weight="bold" >10<tspan font-size="21.5" dx="-1.6" dy="-10.5">3</tspan></text>
<line x1="96.90" y1="1640.17" x2="102.30" y2="1640.17" stroke-width="2" />
<line x1="96.90" y1="1622.89" x2="102.30" y2="1622.89" stroke-width="2" />
<line x1="96.90" y1="1610.64" x2="102.30" y2="1610.64" stroke-width="2" />
<line x1="96.90" y1="1601.13" x2="102.30" y2="1601.13" stroke-width="2" />
<line x1="96.90" y1="1593.36" x2="102.30" y2="1593.36" stroke-width="2" />
<line x1="96.90" y1="1586.80" x2="102.30" y2="1586.80" stroke-width="2" />
<line x1="96.90" y1="1581.11" x2="102.30" y2="1581.11" stroke-width="2" />
<line x1="96.90" y1="1576.09" x2="102.30" y2="1576.09" stroke-width="2" />
<line x1="93.30" y1="1571.60" x2="102.30" y2="1571.60" stroke-width="3.0" />
<text transform="translate(44.88,1588.60) scale(0.9620,1)" font-size="31.51" font-weight="bold" >10<tspan font-size="21.5" dx="-1.6" dy="-10.5">4</tspan></text>
<line x1="249.70" y1="1865.90" x2="249.70" y2="1875.20" stroke-width="3.0" />
<text transform="translate(103.62,1968.28) rotate(-45)" font-size="28.60" font-weight="bold" style="stroke:#231f20;stroke-width:0.9px;stroke-linejoin:round">MCMV<tspan font-size="18.45" dx="0.00" dy="-8.58">HA</tspan></text>
<text transform="translate(193.12,1968.28) rotate(-45)" font-size="28.60" font-weight="bold" style="stroke:#231f20;stroke-width:0.9px;stroke-linejoin:round">MCMV<tspan font-size="18.45" dx="0.00" dy="-8.58">IVL</tspan></text>
<text transform="translate(33.70,1776.00) rotate(-90)" font-size="31.16" font-weight="bold" >FFU/ml</text>
<line x1="104.3" y1="1798.2" x2="298" y2="1798.2" stroke-width="1.7" stroke-dasharray="1.7 3.1"/>
<line x1="113.30" y1="1863.80" x2="203.70" y2="1863.80" stroke-width="3.1" />
<circle cx="130.70" cy="1863.30" r="10.6" stroke="none"/>
<circle cx="138.45" cy="1864.10" r="10.6" stroke="none"/>
<circle cx="146.20" cy="1863.30" r="10.6" stroke="none"/>
<circle cx="153.95" cy="1864.10" r="10.6" stroke="none"/>
<circle cx="161.70" cy="1863.30" r="10.6" stroke="none"/>
<circle cx="169.45" cy="1864.10" r="10.6" stroke="none"/>
<circle cx="177.20" cy="1863.30" r="10.6" stroke="none"/>
<line x1="249.80" y1="1605.80" x2="249.80" y2="1629.00" stroke-width="3.1" />
<line x1="233.80" y1="1605.80" x2="262.80" y2="1605.80" stroke-width="3.1" />
<line x1="233.80" y1="1629.00" x2="262.80" y2="1629.00" stroke-width="3.1" />
<line x1="218.40" y1="1616.30" x2="281.00" y2="1616.30" stroke-width="3.1" />
<circle cx="262.10" cy="1585.80" r="9.2" fill="none" stroke-width="3.2"/>
<circle cx="240.60" cy="1600.80" r="9.2" fill="none" stroke-width="3.2"/>
<circle cx="251.70" cy="1629.40" r="9.2" fill="none" stroke-width="3.2"/>
<circle cx="230.10" cy="1639.90" r="9.2" fill="none" stroke-width="3.2"/>
<circle cx="251.50" cy="1644.30" r="9.2" fill="none" stroke-width="3.2"/>
<circle cx="273.00" cy="1652.00" r="9.2" fill="none" stroke-width="3.2"/>
<line x1="512.50" y1="1574.85" x2="512.50" y2="1875.90" stroke-width="2.9" />
<line x1="503.90" y1="1867.30" x2="951.05" y2="1867.30" stroke-width="2.9" />
<text transform="translate(475.31,1875.70) scale(0.9620,1)" font-size="23.61" font-weight="bold" >80</text>
<line x1="503.90" y1="1809.10" x2="512.50" y2="1809.10" stroke-width="2.9" />
<text transform="translate(475.07,1817.50) scale(0.9620,1)" font-size="23.61" font-weight="bold" >85</text>
<line x1="503.90" y1="1750.90" x2="512.50" y2="1750.90" stroke-width="2.9" />
<text transform="translate(475.31,1759.30) scale(0.9620,1)" font-size="23.61" font-weight="bold" >90</text>
<line x1="503.90" y1="1692.70" x2="512.50" y2="1692.70" stroke-width="2.9" />
<text transform="translate(475.07,1701.10) scale(0.9620,1)" font-size="23.61" font-weight="bold" >95</text>
<line x1="503.90" y1="1634.50" x2="512.50" y2="1634.50" stroke-width="2.9" />
<text transform="translate(463.76,1642.90) scale(0.9620,1)" font-size="23.61" font-weight="bold" >100</text>
<line x1="503.90" y1="1576.30" x2="512.50" y2="1576.30" stroke-width="2.9" />
<text transform="translate(463.52,1584.70) scale(0.9620,1)" font-size="23.61" font-weight="bold" >105</text>
<text transform="translate(506.43,1901.20) scale(0.9620,1)" font-size="23.61" font-weight="bold" >0</text>
<line x1="574.94" y1="1867.30" x2="574.94" y2="1875.90" stroke-width="2.9" />
<text transform="translate(568.99,1901.20) scale(0.9620,1)" font-size="23.61" font-weight="bold" >2</text>
<line x1="637.39" y1="1867.30" x2="637.39" y2="1875.90" stroke-width="2.9" />
<text transform="translate(631.31,1901.20) scale(0.9620,1)" font-size="23.61" font-weight="bold" >4</text>
<line x1="699.83" y1="1867.30" x2="699.83" y2="1875.90" stroke-width="2.9" />
<text transform="translate(693.88,1901.20) scale(0.9620,1)" font-size="23.61" font-weight="bold" >6</text>
<line x1="762.27" y1="1867.30" x2="762.27" y2="1875.90" stroke-width="2.9" />
<text transform="translate(756.20,1901.20) scale(0.9620,1)" font-size="23.61" font-weight="bold" >8</text>
<line x1="824.71" y1="1867.30" x2="824.71" y2="1875.90" stroke-width="2.9" />
<text transform="translate(812.15,1901.20) scale(0.9620,1)" font-size="23.61" font-weight="bold" >10</text>
<line x1="887.16" y1="1867.30" x2="887.16" y2="1875.90" stroke-width="2.9" />
<text transform="translate(874.59,1901.20) scale(0.9620,1)" font-size="23.61" font-weight="bold" >12</text>
<line x1="949.60" y1="1867.30" x2="949.60" y2="1875.90" stroke-width="2.9" />
<text transform="translate(936.67,1901.20) scale(0.9620,1)" font-size="23.61" font-weight="bold" >14</text>
<text transform="translate(686.20,1932.00)" font-size="24.88" font-weight="bold" >days p.i</text>
<text transform="translate(447.80,1876.25) rotate(-90)" font-size="27.95" font-weight="bold" >% of initial body weight</text>
<line x1="606.16" y1="1657.56" x2="606.16" y2="1677.47" stroke-width="4.2" />
<line x1="597.21" y1="1657.56" x2="615.11" y2="1657.56" stroke-width="4.4" />
<line x1="597.21" y1="1677.47" x2="615.11" y2="1677.47" stroke-width="4.4" />
<line x1="637.39" y1="1662.54" x2="637.39" y2="1694.88" stroke-width="4.2" />
<line x1="628.44" y1="1662.54" x2="646.34" y2="1662.54" stroke-width="4.4" />
<line x1="628.44" y1="1694.88" x2="646.34" y2="1694.88" stroke-width="4.4" />
<line x1="668.61" y1="1674.98" x2="668.61" y2="1693.89" stroke-width="4.2" />
<line x1="659.66" y1="1674.98" x2="677.56" y2="1674.98" stroke-width="4.4" />
<line x1="659.66" y1="1693.89" x2="677.56" y2="1693.89" stroke-width="4.4" />
<line x1="699.83" y1="1660.05" x2="699.83" y2="1687.92" stroke-width="4.2" />
<line x1="690.88" y1="1660.05" x2="708.78" y2="1660.05" stroke-width="4.4" />
<line x1="690.88" y1="1687.92" x2="708.78" y2="1687.92" stroke-width="4.4" />
<line x1="731.05" y1="1655.57" x2="731.05" y2="1691.90" stroke-width="4.2" />
<line x1="722.10" y1="1655.57" x2="740.00" y2="1655.57" stroke-width="4.4" />
<line x1="722.10" y1="1691.90" x2="740.00" y2="1691.90" stroke-width="4.4" />
<line x1="762.27" y1="1655.57" x2="762.27" y2="1686.92" stroke-width="4.2" />
<line x1="753.32" y1="1655.57" x2="771.22" y2="1655.57" stroke-width="4.4" />
<line x1="753.32" y1="1686.92" x2="771.22" y2="1686.92" stroke-width="4.4" />
<line x1="793.49" y1="1666.52" x2="793.49" y2="1700.36" stroke-width="4.2" />
<line x1="784.54" y1="1666.52" x2="802.44" y2="1666.52" stroke-width="4.4" />
<line x1="784.54" y1="1700.36" x2="802.44" y2="1700.36" stroke-width="4.4" />
<line x1="824.71" y1="1654.58" x2="824.71" y2="1691.90" stroke-width="4.2" />
<line x1="815.76" y1="1654.58" x2="833.66" y2="1654.58" stroke-width="4.4" />
<line x1="815.76" y1="1691.90" x2="833.66" y2="1691.90" stroke-width="4.4" />
<line x1="855.94" y1="1664.03" x2="855.94" y2="1702.35" stroke-width="4.2" />
<line x1="846.99" y1="1664.03" x2="864.89" y2="1664.03" stroke-width="4.4" />
<line x1="846.99" y1="1702.35" x2="864.89" y2="1702.35" stroke-width="4.4" />
<line x1="887.16" y1="1656.07" x2="887.16" y2="1699.86" stroke-width="4.2" />
<line x1="878.21" y1="1656.07" x2="896.11" y2="1656.07" stroke-width="4.4" />
<line x1="878.21" y1="1699.86" x2="896.11" y2="1699.86" stroke-width="4.4" />
<line x1="918.38" y1="1655.57" x2="918.38" y2="1690.90" stroke-width="4.2" />
<line x1="909.43" y1="1655.57" x2="927.33" y2="1655.57" stroke-width="4.4" />
<line x1="909.43" y1="1690.90" x2="927.33" y2="1690.90" stroke-width="4.4" />
<line x1="949.60" y1="1663.53" x2="949.60" y2="1701.35" stroke-width="4.2" />
<line x1="940.65" y1="1663.53" x2="958.55" y2="1663.53" stroke-width="4.4" />
<line x1="940.65" y1="1701.35" x2="958.55" y2="1701.35" stroke-width="4.4" />
<line x1="574.94" y1="1669.01" x2="574.94" y2="1687.42" stroke-width="4.2" />
<line x1="565.99" y1="1669.01" x2="583.89" y2="1669.01" stroke-width="4.4" />
<line x1="565.99" y1="1687.42" x2="583.89" y2="1687.42" stroke-width="4.4" />
<line x1="668.61" y1="1768.53" x2="668.61" y2="1785.95" stroke-width="4.2" />
<line x1="659.66" y1="1768.53" x2="677.56" y2="1768.53" stroke-width="4.4" />
<line x1="659.66" y1="1785.95" x2="677.56" y2="1785.95" stroke-width="4.4" />
<line x1="699.83" y1="1770.03" x2="699.83" y2="1797.89" stroke-width="4.2" />
<line x1="690.88" y1="1770.03" x2="708.78" y2="1770.03" stroke-width="4.4" />
<line x1="690.88" y1="1797.89" x2="708.78" y2="1797.89" stroke-width="4.4" />
<line x1="731.05" y1="1758.58" x2="731.05" y2="1786.45" stroke-width="4.2" />
<line x1="722.10" y1="1758.58" x2="740.00" y2="1758.58" stroke-width="4.4" />
<line x1="722.10" y1="1786.45" x2="740.00" y2="1786.45" stroke-width="4.4" />
<line x1="762.27" y1="1747.14" x2="762.27" y2="1771.02" stroke-width="4.2" />
<line x1="753.32" y1="1747.14" x2="771.22" y2="1747.14" stroke-width="4.4" />
<line x1="753.32" y1="1771.02" x2="771.22" y2="1771.02" stroke-width="4.4" />
<line x1="824.71" y1="1720.76" x2="824.71" y2="1738.68" stroke-width="4.2" />
<line x1="815.76" y1="1720.76" x2="833.66" y2="1720.76" stroke-width="4.4" />
<line x1="815.76" y1="1738.68" x2="833.66" y2="1738.68" stroke-width="4.4" />
<line x1="918.38" y1="1718.27" x2="918.38" y2="1734.20" stroke-width="4.2" />
<line x1="909.43" y1="1718.27" x2="927.33" y2="1718.27" stroke-width="4.4" />
<line x1="909.43" y1="1734.20" x2="927.33" y2="1734.20" stroke-width="4.4" />
<circle cx="574.94" cy="1677.96" r="8.5" fill="#fff" stroke-width="4.4"/>
<circle cx="606.16" cy="1757.59" r="8.5" fill="#fff" stroke-width="4.4"/>
<circle cx="637.39" cy="1759.08" r="8.5" fill="#fff" stroke-width="4.4"/>
<circle cx="668.61" cy="1776.99" r="8.5" fill="#fff" stroke-width="4.4"/>
<circle cx="699.83" cy="1783.96" r="8.5" fill="#fff" stroke-width="4.4"/>
<circle cx="731.05" cy="1772.52" r="8.5" fill="#fff" stroke-width="4.4"/>
<circle cx="762.27" cy="1759.08" r="8.5" fill="#fff" stroke-width="4.4"/>
<circle cx="793.49" cy="1748.63" r="8.5" fill="#fff" stroke-width="4.4"/>
<circle cx="824.71" cy="1729.72" r="8.5" fill="#fff" stroke-width="4.4"/>
<circle cx="855.94" cy="1729.72" r="8.5" fill="#fff" stroke-width="4.4"/>
<circle cx="887.16" cy="1729.22" r="8.5" fill="#fff" stroke-width="4.4"/>
<circle cx="918.38" cy="1726.24" r="8.5" fill="#fff" stroke-width="4.4"/>
<circle cx="949.60" cy="1724.24" r="8.5" fill="#fff" stroke-width="4.4"/>
<polyline points="512.50,1634.17 543.72,1654.08 574.94,1654.08 606.16,1667.51 637.39,1678.96 668.61,1684.93 699.83,1673.98 731.05,1673.98 762.27,1671.50 793.49,1683.94 824.71,1672.99 855.94,1682.94 887.16,1677.47 918.38,1672.99 949.60,1682.44" fill="none" stroke-width="3.3" stroke-linejoin="round" stroke-linecap="round" />
<polyline points="512.50,1634.17 543.72,1654.08 574.94,1677.96 606.16,1757.59 637.39,1759.08 668.61,1776.99 699.83,1783.96 731.05,1772.52 762.27,1759.08 793.49,1748.63 824.71,1729.72 855.94,1729.72 887.16,1729.22 918.38,1726.24 949.60,1724.24" fill="none" stroke-width="3.3" stroke-linejoin="round" stroke-linecap="round" />
<circle cx="512.50" cy="1634.17" r="10.6" stroke="none"/>
<circle cx="543.72" cy="1654.08" r="10.6" stroke="none"/>
<circle cx="574.94" cy="1654.08" r="9.2" stroke="none"/>
<circle cx="606.16" cy="1667.51" r="9.2" stroke="none"/>
<circle cx="637.39" cy="1678.96" r="9.2" stroke="none"/>
<circle cx="668.61" cy="1684.93" r="9.2" stroke="none"/>
<circle cx="699.83" cy="1673.98" r="9.2" stroke="none"/>
<circle cx="731.05" cy="1673.98" r="9.2" stroke="none"/>
<circle cx="762.27" cy="1671.50" r="9.2" stroke="none"/>
<circle cx="793.49" cy="1683.94" r="9.2" stroke="none"/>
<circle cx="824.71" cy="1672.99" r="9.2" stroke="none"/>
<circle cx="855.94" cy="1682.94" r="9.2" stroke="none"/>
<circle cx="887.16" cy="1677.47" r="9.2" stroke="none"/>
<circle cx="918.38" cy="1672.99" r="9.2" stroke="none"/>
<circle cx="949.60" cy="1682.44" r="9.2" stroke="none"/>
<line x1="889.50" y1="1585.70" x2="921.10" y2="1585.70" stroke-width="3.0" />
<circle cx="905.30" cy="1585.70" r="9" stroke="none"/>
<line x1="889.50" y1="1625.40" x2="921.10" y2="1625.40" stroke-width="3.0" />
<circle cx="905.30" cy="1625.40" r="9.2" fill="none" stroke-width="4.2"/>
<text transform="translate(938.30,1593.90) scale(1.0013,1)" font-size="24.14" font-weight="normal" >MCMV-HA</text>
<text transform="translate(938.30,1633.70)" font-size="24.54" font-weight="normal" >MCMV-IVL</text>
<line x1="1230.40" y1="1576.10" x2="1230.40" y2="1869.70" stroke-width="2.8" />
<line x1="1221.00" y1="1868.30" x2="1449.50" y2="1868.30" stroke-width="2.8" />
<text transform="translate(1194.41,1876.70) scale(0.9620,1)" font-size="28.91" font-weight="bold" >4</text>
<line x1="1221.00" y1="1831.95" x2="1230.40" y2="1831.95" stroke-width="2.8" />
<text transform="translate(1195.13,1840.35) scale(0.9620,1)" font-size="28.91" font-weight="bold" >8</text>
<line x1="1221.00" y1="1795.60" x2="1230.40" y2="1795.60" stroke-width="2.8" />
<text transform="translate(1181.48,1804.00) scale(0.9620,1)" font-size="28.91" font-weight="bold" >16</text>
<line x1="1221.00" y1="1759.25" x2="1230.40" y2="1759.25" stroke-width="2.8" />
<text transform="translate(1181.48,1767.65) scale(0.9620,1)" font-size="28.91" font-weight="bold" >32</text>
<line x1="1221.00" y1="1722.90" x2="1230.40" y2="1722.90" stroke-width="2.8" />
<text transform="translate(1180.52,1731.30) scale(0.9620,1)" font-size="28.91" font-weight="bold" >64</text>
<line x1="1221.00" y1="1686.55" x2="1230.40" y2="1686.55" stroke-width="2.8" />
<text transform="translate(1167.35,1694.95) scale(0.9620,1)" font-size="28.91" font-weight="bold" >128</text>
<line x1="1221.00" y1="1650.20" x2="1230.40" y2="1650.20" stroke-width="2.8" />
<text transform="translate(1167.35,1658.60) scale(0.9620,1)" font-size="28.91" font-weight="bold" >256</text>
<line x1="1221.00" y1="1613.85" x2="1230.40" y2="1613.85" stroke-width="2.8" />
<text transform="translate(1167.59,1622.25) scale(0.9620,1)" font-size="28.91" font-weight="bold" >512</text>
<line x1="1221.00" y1="1577.50" x2="1230.40" y2="1577.50" stroke-width="2.8" />
<text transform="translate(1152.49,1585.90) scale(0.9620,1)" font-size="28.91" font-weight="bold" >1024</text>
<line x1="1285.40" y1="1868.30" x2="1285.40" y2="1877.30" stroke-width="2.8" />
<text transform="translate(1218.72,1976.18) rotate(-45)" font-size="28.60" font-weight="bold" style="stroke:#231f20;stroke-width:0.9px;stroke-linejoin:round">MCMV<tspan font-size="18.45" dx="0.00" dy="-8.58">HA</tspan></text>
<text transform="translate(1325.42,1976.18) rotate(-45)" font-size="28.60" font-weight="bold" style="stroke:#231f20;stroke-width:0.9px;stroke-linejoin:round">MCMV<tspan font-size="18.45" dx="0.00" dy="-8.58">IVL</tspan></text>
<text transform="translate(1144.60,1778.50) rotate(-90) scale(1.0013,1)" font-size="31.20" font-weight="bold" >HAI titer</text>
<line x1="1231.9" y1="1820.2" x2="1444" y2="1820.2" stroke-width="2.7" stroke-dasharray="2.7 6.9"/>
<line x1="1286.60" y1="1579.00" x2="1391.20" y2="1579.00" stroke-width="3.6" />
<text transform="translate(1314.40,1586.55)" font-size="40.04" font-weight="bold" letter-spacing="1.6">***</text>
<line x1="1285.50" y1="1633.80" x2="1285.50" y2="1669.10" stroke-width="3.0" />
<line x1="1267.00" y1="1633.80" x2="1303.80" y2="1633.80" stroke-width="3.4" />
<line x1="1267.00" y1="1669.10" x2="1303.80" y2="1669.10" stroke-width="3.4" />
<line x1="1249.10" y1="1648.30" x2="1321.90" y2="1648.30" stroke-width="3.4" />
<circle cx="1271.20" cy="1602.50" r="9.9" stroke="none"/>
<circle cx="1299.90" cy="1602.50" r="9.9" stroke="none"/>
<circle cx="1285.60" cy="1639.20" r="9.9" stroke="none"/>
<circle cx="1271.20" cy="1674.80" r="9.9" stroke="none"/>
<circle cx="1299.90" cy="1674.80" r="9.9" stroke="none"/>
<circle cx="1271.20" cy="1711.60" r="9.9" stroke="none"/>
<circle cx="1299.90" cy="1711.60" r="9.9" stroke="none"/>
<circle cx="1285.60" cy="1747.60" r="9.9" stroke="none"/>
<circle cx="1371.50" cy="1868.20" r="8.7" fill="none" stroke-width="3.6"/>
<circle cx="1380.70" cy="1868.20" r="8.7" fill="none" stroke-width="3.6"/>
<circle cx="1389.90" cy="1868.20" r="8.7" fill="none" stroke-width="3.6"/>
<circle cx="1399.10" cy="1868.20" r="8.7" fill="none" stroke-width="3.6"/>
<circle cx="1408.30" cy="1868.20" r="8.7" fill="none" stroke-width="3.6"/>
<circle cx="1417.50" cy="1868.20" r="8.7" fill="none" stroke-width="3.6"/>
</svg></body></html>
